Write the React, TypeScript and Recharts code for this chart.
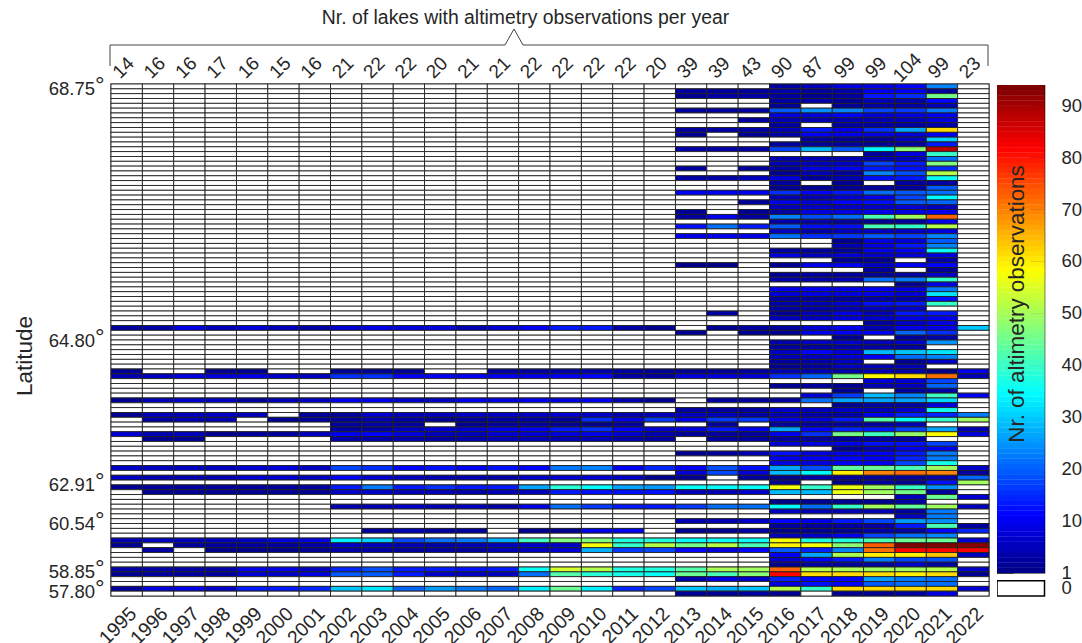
import { ReferenceArea, ReferenceLine, Scatter, ScatterChart, XAxis, YAxis } from "recharts"

const years = [1995, 1996, 1997, 1998, 1999, 2000, 2001, 2002, 2003, 2004, 2005, 2006, 2007, 2008, 2009, 2010, 2011, 2012, 2013, 2014, 2015, 2016, 2017, 2018, 2019, 2020, 2021, 2022]
const lakesPerYear = [14, 16, 16, 17, 16, 15, 16, 21, 22, 22, 20, 21, 21, 22, 22, 22, 22, 20, 39, 39, 43, 90, 87, 99, 99, 104, 99, 23]

const latitudeRows = [1, 53, 83, 91, 101, 105]
const latitudeLabels = ["68.75", "64.80", "62.91", "60.54", "58.85", "57.80"]

const colorbarLevels = Array.from({ length: 94 }, (_, i) => i + 1)
const colorbarTicks = [-3, 0, 10, 20, 30, 40, 50, 60, 70, 80, 90]

// 1995-2012, only the lakes that have data this far back (key = row from the top)
const earlyObservations: Record<number, number[]> = {
  51: [3, 4, 10, 6, 9, 6, 4, 8, 10, 9, 9, 5, 8, 11, 14, 14, 4, 2],
  60: [2, 0, 0, 2, 2, 0, 0, 2, 2, 2, 0, 0, 3, 3, 4, 4, 3, 2],
  61: [5, 6, 9, 9, 10, 7, 6, 16, 16, 11, 11, 11, 11, 10, 11, 12, 4, 3],
  66: [2, 5, 7, 6, 3, 5, 6, 10, 10, 7, 6, 10, 9, 10, 9, 10, 4, 2],
  69: [2, 6, 6, 7, 6, 0, 3, 3, 8, 6, 6, 7, 7, 7, 8, 7, 5, 6],
  70: [0, 4, 5, 5, 0, 2, 3, 3, 5, 4, 2, 3, 4, 4, 3, 16, 10, 17],
  71: [0, 0, 0, 0, 0, 0, 0, 3, 4, 3, 0, 2, 3, 3, 2, 1, 3, 0],
  72: [0, 0, 0, 0, 0, 0, 0, 3, 3, 6, 8, 8, 10, 11, 14, 16, 12, 8],
  73: [8, 5, 6, 2, 3, 3, 6, 11, 12, 9, 6, 6, 8, 8, 9, 10, 8, 5],
  74: [0, 2, 2, 0, 0, 0, 0, 4, 4, 4, 3, 4, 5, 5, 5, 5, 4, 3],
  80: [7, 6, 6, 6, 8, 9, 6, 18, 16, 12, 13, 11, 13, 12, 23, 24, 11, 15],
  82: [7, 5, 5, 5, 8, 8, 6, 12, 8, 6, 5, 5, 4, 7, 8, 8, 7, 2],
  84: [2, 3, 3, 3, 3, 3, 3, 14, 23, 14, 16, 14, 14, 27, 39, 35, 27, 26],
  85: [0, 2, 2, 2, 2, 2, 2, 7, 7, 5, 5, 4, 5, 6, 14, 13, 13, 13],
  88: [0, 0, 0, 0, 0, 0, 0, 5, 5, 7, 5, 6, 4, 10, 22, 17, 14, 14],
  93: [0, 0, 0, 0, 0, 0, 0, 0, 3, 5, 3, 3, 0, 2, 2, 10, 11, 0],
  95: [5, 6, 6, 6, 7, 9, 9, 34, 31, 18, 22, 23, 28, 41, 47, 47, 38, 38],
  96: [2, 0, 3, 3, 3, 3, 4, 7, 6, 5, 4, 5, 6, 7, 7, 58, 40, 52],
  97: [0, 3, 0, 1, 1, 1, 2, 4, 4, 3, 3, 3, 5, 6, 8, 28, 17, 18],
  101: [4, 4, 4, 4, 10, 10, 6, 15, 19, 14, 14, 13, 14, 36, 55, 52, 38, 38],
  102: [2, 3, 3, 3, 8, 7, 9, 20, 20, 14, 7, 6, 6, 22, 43, 39, 37, 36],
  105: [3, 9, 10, 7, 14, 14, 15, 30, 33, 21, 26, 23, 21, 34, 45, 34, 15, 18],
}

// 2013-2022, one line per lake, north to south
const lateObservations = [
  [0, 0, 0, 3, 5, 9, 9, 11, 24, 0],
  [3, 3, 3, 4, 3, 4, 10, 11, 3, 0],
  [2, 4, 4, 3, 2, 3, 14, 16, 46, 0],
  [0, 0, 0, 3, 4, 2, 5, 4, 12, 0],
  [0, 0, 0, 2, 0, 2, 3, 3, 5, 0],
  [3, 3, 3, 20, 25, 24, 18, 17, 23, 0],
  [0, 0, 0, 9, 9, 12, 8, 9, 11, 0],
  [0, 0, 3, 5, 5, 5, 5, 6, 9, 0],
  [0, 0, 0, 3, 0, 3, 3, 3, 4, 0],
  [3, 4, 4, 5, 14, 10, 16, 27, 62, 0],
  [2, 0, 2, 4, 11, 10, 9, 8, 11, 0],
  [0, 0, 0, 0, 3, 2, 2, 6, 31, 0],
  [0, 0, 0, 3, 2, 3, 2, 3, 14, 0],
  [4, 4, 4, 18, 29, 20, 35, 48, 89, 0],
  [0, 0, 0, 0, 0, 0, 3, 9, 40, 0],
  [0, 0, 0, 5, 5, 5, 5, 6, 22, 0],
  [0, 0, 0, 5, 6, 7, 18, 14, 47, 0],
  [3, 0, 3, 3, 9, 11, 14, 13, 16, 0],
  [0, 0, 0, 2, 5, 3, 24, 19, 52, 0],
  [4, 4, 6, 9, 3, 5, 13, 14, 36, 0],
  [0, 0, 0, 3, 0, 2, 0, 3, 3, 0],
  [0, 0, 0, 2, 2, 2, 3, 3, 20, 0],
  [11, 11, 11, 16, 11, 14, 22, 20, 22, 0],
  [0, 0, 0, 5, 5, 8, 10, 18, 35, 0],
  [0, 0, 3, 10, 8, 12, 13, 20, 21, 0],
  [0, 0, 0, 6, 7, 7, 7, 8, 6, 0],
  [2, 0, 2, 3, 9, 9, 10, 9, 11, 0],
  [3, 10, 3, 24, 19, 22, 42, 50, 73, 0],
  [0, 0, 0, 4, 4, 3, 2, 3, 10, 0],
  [13, 22, 14, 20, 13, 13, 42, 40, 52, 0],
  [0, 0, 0, 6, 4, 6, 6, 6, 9, 0],
  [10, 11, 10, 22, 16, 17, 20, 18, 24, 0],
  [0, 0, 0, 0, 0, 2, 9, 8, 20, 0],
  [0, 0, 0, 0, 0, 5, 9, 14, 24, 0],
  [0, 0, 0, 3, 3, 3, 10, 11, 36, 0],
  [0, 0, 0, 9, 6, 8, 7, 8, 9, 0],
  [0, 0, 0, 0, 0, 2, 2, 0, 4, 0],
  [1, 1, 0, 2, 10, 11, 6, 11, 12, 0],
  [0, 0, 0, 0, 0, 0, 3, 0, 2, 0],
  [0, 0, 0, 2, 3, 3, 2, 3, 7, 0],
  [0, 0, 0, 4, 4, 5, 22, 23, 40, 0],
  [0, 0, 0, 0, 0, 0, 0, 2, 9, 0],
  [0, 0, 0, 10, 11, 10, 11, 9, 23, 0],
  [0, 0, 0, 8, 9, 9, 10, 8, 33, 0],
  [0, 0, 0, 3, 3, 3, 4, 4, 13, 0],
  [0, 0, 0, 4, 5, 8, 13, 14, 40, 0],
  [0, 0, 0, 3, 4, 5, 6, 7, 0, 0],
  [0, 3, 0, 2, 5, 9, 5, 14, 14, 0],
  [0, 0, 0, 6, 6, 8, 7, 9, 10, 0],
  [0, 0, 0, 0, 0, 0, 3, 6, 9, 0],
  [0, 2, 3, 3, 8, 11, 5, 10, 10, 30],
  [2, 0, 2, 2, 10, 11, 11, 21, 16, 0],
  [0, 0, 0, 0, 0, 2, 0, 3, 4, 0],
  [0, 0, 0, 4, 6, 7, 5, 7, 25, 0],
  [0, 0, 0, 3, 3, 4, 4, 3, 0, 0],
  [0, 0, 0, 6, 12, 8, 29, 30, 33, 0],
  [0, 0, 0, 5, 6, 8, 11, 22, 24, 0],
  [0, 0, 0, 3, 4, 6, 0, 2, 6, 0],
  [0, 0, 0, 2, 3, 6, 5, 5, 0, 0],
  [2, 2, 3, 5, 5, 4, 5, 4, 1, 10],
  [9, 9, 8, 16, 21, 46, 59, 62, 72, 5],
  [0, 0, 0, 0, 0, 0, 8, 8, 18, 0],
  [0, 0, 0, 2, 3, 2, 5, 6, 21, 0],
  [0, 0, 0, 0, 0, 2, 0, 3, 4, 0],
  [0, 0, 0, 0, 8, 17, 29, 24, 41, 11],
  [0, 3, 3, 3, 22, 27, 27, 27, 32, 0],
  [0, 0, 0, 0, 0, 2, 3, 3, 9, 0],
  [3, 3, 3, 7, 6, 7, 5, 7, 37, 0],
  [6, 6, 4, 5, 4, 4, 10, 15, 15, 23],
  [10, 17, 17, 10, 9, 14, 43, 36, 40, 50],
  [0, 3, 0, 3, 3, 3, 3, 5, 0, 0],
  [9, 14, 10, 27, 12, 15, 14, 18, 27, 5],
  [3, 3, 3, 11, 16, 46, 41, 49, 59, 9],
  [0, 3, 3, 3, 3, 3, 3, 3, 0, 0],
  [0, 0, 0, 8, 9, 10, 13, 13, 18, 0],
  [0, 0, 0, 0, 0, 2, 5, 10, 10, 0],
  [2, 3, 5, 13, 9, 10, 11, 14, 23, 0],
  [0, 0, 0, 10, 11, 12, 11, 15, 23, 0],
  [0, 0, 0, 9, 9, 11, 10, 18, 37, 0],
  [11, 19, 13, 27, 19, 44, 45, 42, 50, 7],
  [8, 18, 8, 29, 35, 60, 70, 72, 70, 3],
  [2, 0, 3, 1, 4, 3, 3, 3, 4, 21],
  [0, 0, 0, 2, 0, 1, 3, 2, 13, 50],
  [36, 35, 36, 58, 40, 57, 50, 40, 25, 0],
  [5, 5, 7, 29, 29, 57, 50, 46, 3, 0],
  [0, 0, 0, 0, 0, 0, 0, 6, 45, 8],
  [0, 0, 0, 1, 2, 2, 2, 4, 0, 0],
  [17, 22, 22, 35, 22, 40, 50, 44, 50, 6],
  [0, 0, 0, 6, 5, 5, 5, 3, 23, 0],
  [0, 0, 0, 0, 0, 0, 0, 6, 23, 0],
  [5, 5, 7, 12, 10, 14, 18, 26, 25, 0],
  [0, 0, 0, 3, 3, 3, 3, 14, 42, 3],
  [2, 2, 4, 1, 2, 2, 4, 3, 12, 15],
  [0, 0, 0, 6, 7, 10, 18, 22, 24, 0],
  [35, 36, 36, 58, 38, 38, 42, 45, 45, 8],
  [46, 52, 42, 60, 58, 48, 74, 94, 94, 93],
  [12, 9, 12, 20, 15, 24, 72, 82, 82, 82],
  [0, 0, 0, 11, 27, 51, 60, 60, 64, 6],
  [0, 0, 0, 7, 11, 14, 23, 18, 19, 0],
  [0, 0, 0, 2, 3, 3, 3, 7, 3, 0],
  [43, 51, 50, 73, 52, 51, 50, 50, 52, 7],
  [45, 42, 48, 82, 62, 62, 62, 60, 62, 2],
  [4, 9, 7, 15, 12, 12, 26, 23, 22, 0],
  [0, 0, 0, 9, 13, 12, 20, 22, 22, 0],
  [30, 28, 30, 52, 40, 62, 62, 62, 62, 8],
  [2, 2, 3, 2, 0, 2, 2, 3, 9, 0],
]

const TEXT = "#262626"
const FONT = '"Liberation Sans", Arial, sans-serif'
const PLOT_W = 878
const PLOT_H = 512
const ROWS = lateObservations.length
const CELL_W = PLOT_W / years.length
const CELL_H = PLOT_H / ROWS
const BAR_PX = 5.19 // colorbar, pixels per observation

const clamp = (v: number) => Math.max(0, Math.min(1, v))

// matlab jet, 0 stays white
function jet(v: number) {
  if (v <= 0) return "#ffffff"
  const t = v / 94
  const r = clamp(1.5 - Math.abs(4 * t - 3))
  const g = clamp(1.5 - Math.abs(4 * t - 2))
  const b = clamp(1.5 - Math.abs(4 * t - 1))
  return `rgb(${Math.round(r * 255)},${Math.round(g * 255)},${Math.round(b * 255)})`
}

const cells = lateObservations.flatMap((late, r) => {
  const early = earlyObservations[r + 1] ?? new Array(18).fill(0)
  return [...early, ...late].map((obs, c) => ({ year: years[c], row: r + 1, obs }))
})

const barCells = colorbarLevels.map((level) => ({ x: 0.5, y: level - 0.5, level }))

function HeatCell(props: any) {
  const { cx, cy, payload } = props
  return (
    <rect
      x={cx - CELL_W / 2}
      y={cy - CELL_H / 2}
      width={CELL_W}
      height={CELL_H}
      fill={jet(payload.obs)}
      stroke="#222"
      strokeWidth={0.9}
    />
  )
}

function BarCell(props: any) {
  const { cx, cy, payload } = props
  return <rect x={cx - 24} y={cy - BAR_PX / 2 - 0.15} width={48} height={BAR_PX + 0.3} fill={jet(payload.level)} />
}

function YearTick({ x, y, payload }: any) {
  const ax = x + 11
  const ay = y + 11
  return (
    <text x={ax} y={ay} textAnchor="end" fontFamily={FONT} fontSize={19.5} fill={TEXT} transform={`rotate(-45 ${ax} ${ay})`}>
      {payload.value}
    </text>
  )
}

function CountTick({ x, payload }: any) {
  const n = lakesPerYear[years.indexOf(payload.value)]
  return (
    <text x={x + 1} y={72} textAnchor="middle" fontFamily={FONT} fontSize={19} fill={TEXT} transform={`rotate(-45 ${x + 1} 72)`}>
      {n}
    </text>
  )
}

function LatitudeTick({ y, payload }: any) {
  const label = latitudeLabels[latitudeRows.indexOf(payload.value)]
  return (
    <g>
      <text x={95} y={y + 9} textAnchor="end" fontFamily={FONT} fontSize={18.5} fill={TEXT}>
        {label}
      </text>
      <text x={95} y={y + 7} fontFamily={FONT} fontSize={24} fill={TEXT}>
        °
      </text>
    </g>
  )
}

function BarTick({ x, y, payload }: any) {
  const label = payload.value === -3 ? 0 : payload.value === 0 ? 1 : payload.value
  return (
    <text x={x + 9} y={y + 6} fontFamily={FONT} fontSize={18.5} fill={TEXT}>
      {label}
    </text>
  )
}

function Heatmap() {
  return (
    <ScatterChart width={1082} height={643} margin={{ top: 0, right: 93, bottom: 0, left: 0 }}>
      <XAxis
        xAxisId="years"
        type="number"
        dataKey="year"
        domain={[1994.5, 2022.5]}
        ticks={years}
        interval={0}
        height={47}
        axisLine={false}
        tickLine={false}
        tick={YearTick}
      />
      <XAxis
        xAxisId="counts"
        orientation="top"
        type="number"
        dataKey="year"
        domain={[1994.5, 2022.5]}
        ticks={years}
        interval={0}
        height={84}
        axisLine={false}
        tickLine={false}
        tick={CountTick}
      />
      <YAxis
        yAxisId="rows"
        type="number"
        dataKey="row"
        domain={[0.5, ROWS + 0.5]}
        reversed
        ticks={latitudeRows}
        interval={0}
        width={111}
        axisLine={false}
        tickLine={false}
        tick={LatitudeTick}
      />
      <Scatter xAxisId="years" yAxisId="rows" data={cells} shape={HeatCell} isAnimationActive={false} />
      <Scatter xAxisId="counts" yAxisId="rows" data={cells.slice(0, years.length)} shape={() => null} isAnimationActive={false} />
      <ReferenceArea
        xAxisId="years"
        yAxisId="rows"
        x1={1994.5}
        x2={2022.5}
        y1={0.5}
        y2={ROWS + 0.5}
        fill="none"
        stroke="#777"
        strokeWidth={1.5}
      />
      <path d="M110 66V45H505L514 29L523 45H988V66" fill="none" stroke="#444" strokeWidth={1} />
      <text x={525.5} y={24} textAnchor="middle" fontFamily={FONT} fontSize={19.4} fill={TEXT}>
        Nr. of lakes with altimetry observations per year
      </text>
      <text x={32} y={356} textAnchor="middle" fontFamily={FONT} fontSize={22.5} fill={TEXT} transform="rotate(-90 32 356)">
        Latitude
      </text>
    </ScatterChart>
  )
}

function Colorbar() {
  const bottom = 94 - PLOT_H / BAR_PX
  return (
    <ScatterChart width={85} height={PLOT_H} margin={{ top: 0, right: 0, bottom: 0, left: 0 }}>
      <XAxis type="number" dataKey="x" domain={[0, 1]} hide />
      <YAxis
        type="number"
        dataKey="y"
        orientation="right"
        domain={[bottom, 94]}
        ticks={colorbarTicks}
        interval={0}
        width={37.5}
        axisLine={false}
        tickLine={false}
        tick={BarTick}
      />
      <Scatter data={barCells} shape={BarCell} isAnimationActive={false} />
      <ReferenceLine segment={[{ x: 0.97, y: 92.8 }, { x: 0.03, y: 0.5 }]} stroke="#fff" strokeOpacity={0.3} />
      <ReferenceLine segment={[{ x: 0.35, y: 94 }, { x: 0.35, y: 0 }]} stroke="#111" strokeOpacity={0.55} />
      {colorbarTicks.slice(2).map((t) => (
        <ReferenceLine key={t} segment={[{ x: 0.7, y: t }, { x: 1, y: t }]} stroke="#222" />
      ))}
      <ReferenceLine segment={[{ x: 0, y: 0 }, { x: 0.35, y: 0 }]} stroke="#111" strokeWidth={1.5} />
      <ReferenceArea x1={0} x2={1} y1={0} y2={94} fill="none" stroke="#000" strokeWidth={1.5} />
      <ReferenceArea x1={0} x2={1} y1={bottom + 0.2} y2={-1.5} fill="#fff" stroke="#000" strokeWidth={1.5} />
    </ScatterChart>
  )
}

export default function App() {
  return (
    <div style={{ position: "absolute", left: 0, top: 0, width: 1082, height: 643, background: "#fff", overflow: "hidden" }}>
      <div style={{ position: "absolute", left: 0, top: 0 }}>
        <Heatmap />
      </div>
      <div style={{ position: "absolute", left: 997, top: 84.5 }}>
        <Colorbar />
      </div>
      {/* sits over the colorbar, the chart layers paint the cells above their own children */}
      <svg width={1082} height={643} style={{ position: "absolute", left: 0, top: 0, pointerEvents: "none" }}>
        <text x={1024} y={304} textAnchor="middle" fontFamily={FONT} fontSize={22.4} fill={TEXT} transform="rotate(-90 1024 304)">
          Nr. of altimetry observations
        </text>
      </svg>
    </div>
  )
}
